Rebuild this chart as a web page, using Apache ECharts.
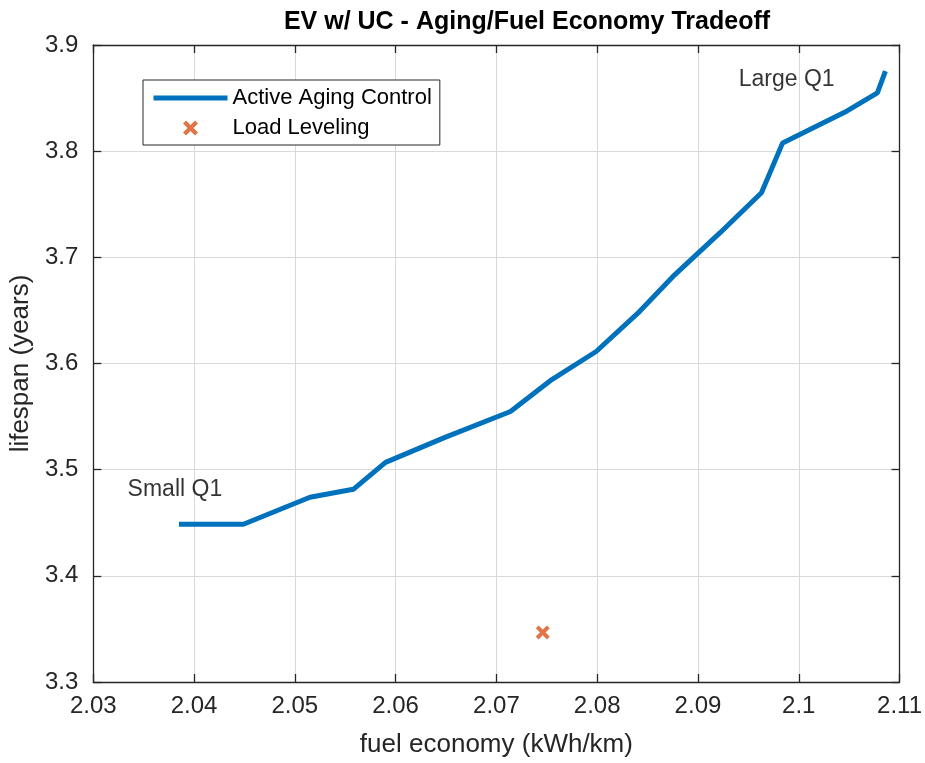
<!DOCTYPE html>
<html>
<head>
<meta charset="utf-8">
<script src="https://cdn.jsdelivr.net/npm/echarts@6/dist/echarts.min.js"></script>
<style>
  html, body { margin: 0; padding: 0; background: #fff; }
  #chart { width: 925px; height: 763px; }
</style>
</head>
<body>
<div id="chart"></div>
<script>
// fuel economy (kWh/km) vs lifespan (years)
const agingX = [2.0385, 2.0449, 2.0515, 2.0558, 2.0590, 2.0649, 2.0714, 2.0755, 2.0799, 2.0842,
                2.0875, 2.0922, 2.0963, 2.0984, 2.1048, 2.1078, 2.1086]
const agingY = [3.4486, 3.4486, 3.4740, 3.4815, 3.5069, 3.5304, 3.5548, 3.5849, 3.6113, 3.6489,
                3.6818, 3.7232, 3.7608, 3.8078, 3.8379, 3.8549, 3.8755]
const levelingX = [2.0746]
const levelingY = [3.3467]
const notes = [
  { text: 'Small Q1', x: 2.0381, y: 3.4815 },
  { text: 'Large Q1', x: 2.0988, y: 3.867 }
]

const font = 'Liberation Sans, Arial, Helvetica, sans-serif'
const xCross = 'path://M2,0 L5,3 L8,0 L10,2 L7,5 L10,8 L8,10 L5,7 L2,10 L0,8 L3,5 L0,2 Z'

const chart = echarts.init(document.getElementById('chart'), null, { renderer: 'canvas' })

const frameAxis = (extra) => Object.assign({
  type: 'value',
  axisLine: { show: true, onZero: false, lineStyle: { color: '#262626', width: 1.3 } },
  axisTick: { show: true, inside: true, length: 8, lineStyle: { color: '#262626', width: 1.3 } },
  splitLine: { show: false },
  axisLabel: { show: false }
}, extra)

chart.setOption({
  backgroundColor: '#fff',
  animation: false,
  title: {
    text: 'EV w/ UC - Aging/Fuel Economy Tradeoff',
    left: 522, top: 5, textAlign: 'center',
    textStyle: { fontFamily: font, fontSize: 25, fontWeight: 'bold', color: '#000' }
  },
  legend: {
    orient: 'vertical',
    left: 143, top: 80,
    padding: [7, 8, 6, 8],
    itemGap: 8,
    itemWidth: 74, itemHeight: 15,
    backgroundColor: '#fff',
    borderColor: '#262626', borderWidth: 1,
    textStyle: { fontFamily: font, fontSize: 22, color: '#000' },
    data: [
      { name: 'Active Aging Control', itemStyle: { opacity: 0 }, lineStyle: { width: 5 } },
      'Load Leveling'
    ]
  },
  grid: { left: 93, right: 25, top: 45, bottom: 80 },
  xAxis: [
    frameAxis({
      min: 2.03, max: 2.11, interval: 0.01,
      name: 'fuel economy (kWh/km)', nameLocation: 'middle', nameGap: 50,
      nameTextStyle: { fontFamily: font, fontSize: 26, color: '#262626' },
      splitLine: { show: true, lineStyle: { color: '#d9d9d9', width: 1 } },
      axisLabel: {
        show: true, margin: 12, color: '#262626', fontFamily: font, fontSize: 24,
        formatter: v => String(+v.toFixed(2))
      }
    }),
    frameAxis({ position: 'top', min: 2.03, max: 2.11, interval: 0.01 })
  ],
  yAxis: [
    frameAxis({
      min: 3.3, max: 3.9, interval: 0.1,
      name: 'lifespan (years)', nameLocation: 'middle', nameGap: 52,
      nameTextStyle: { fontFamily: font, fontSize: 26, color: '#262626' },
      splitLine: { show: true, lineStyle: { color: '#d9d9d9', width: 1 } },
      axisLabel: {
        show: true, margin: 15, color: '#262626', fontFamily: font, fontSize: 24,
        formatter: v => v.toFixed(1)
      }
    }),
    frameAxis({ position: 'right', min: 3.3, max: 3.9, interval: 0.1 })
  ],
  series: [
    {
      name: 'Active Aging Control',
      type: 'line',
      data: agingX.map((x, i) => [x, agingY[i]]),
      showSymbol: false,
      lineStyle: { color: '#0072BD', width: 5 },
      itemStyle: { color: '#0072BD' },
      z: 3
    },
    {
      name: 'Load Leveling',
      type: 'scatter',
      data: levelingX.map((x, i) => [x, levelingY[i]]),
      symbol: xCross,
      symbolSize: 14,
      itemStyle: { color: '#D95319' },
      z: 4
    },
    {
      name: 'notes',
      type: 'scatter',
      data: notes.map(n => ({ value: [n.x, n.y], name: n.text })),
      symbolSize: 0,
      silent: true,
      label: {
        show: true, position: 'inside', formatter: p => p.name,
        fontFamily: font, fontSize: 23, color: '#000'
      }
    }
  ]
})
</script>
</body>
</html>
